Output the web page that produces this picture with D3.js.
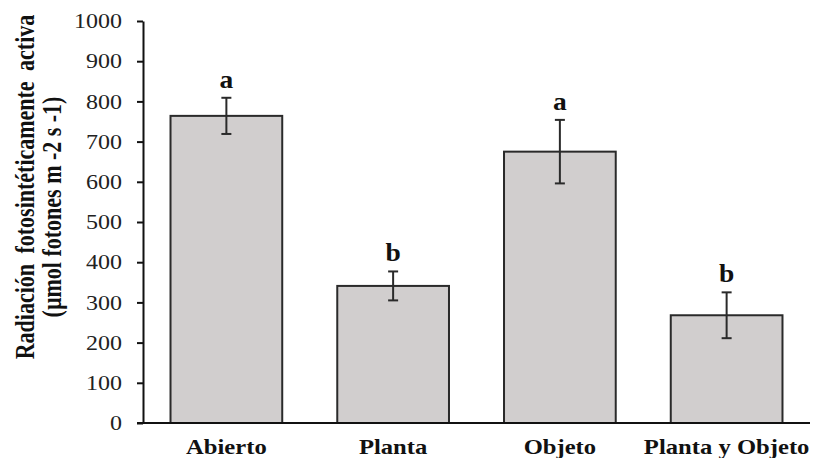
<!DOCTYPE html>
<html>
<head>
<meta charset="utf-8">
<script src="https://cdn.jsdelivr.net/npm/d3@7"></script>
<style>
  body { margin: 0; background: #fff; }
  svg { display: block; }
</style>
</head>
<body>
<svg id="chart" width="814" height="458"></svg>
<script>
// Photosynthetically active radiation by treatment
const categories = ["Abierto", "Planta", "Objeto", "Planta y Objeto"];
const means = [764, 341, 675, 268];
const errors = [45, 36, 79, 57];
const letters = ["a", "b", "a", "b"];
const yTicks = [0, 100, 200, 300, 400, 500, 600, 700, 800, 900, 1000];
const yTitleLines = ["Radiación fotosintéticamente activa", "(µmol fotones m -2 s -1)"];

const serif = "'Liberation Serif', 'Times New Roman', Times, serif";
const svg = d3.select("#chart");
const plotLeft = 143, plotRight = 810, plotTop = 21, plotBottom = 423;

const x = d3.scaleBand()
  .domain(categories)
  .range([plotLeft, plotRight])
  .paddingInner(0.33)
  .paddingOuter(0.165);

const y = d3.scaleLinear().domain([0, 1000]).range([plotBottom, plotTop]);

const rows = categories.map((c, i) => ({ cat: c, mean: means[i], err: errors[i], letter: letters[i] }));

// bars
svg.append("g").selectAll("rect")
  .data(rows)
  .join("rect")
  .attr("x", d => x(d.cat))
  .attr("y", d => y(d.mean))
  .attr("width", x.bandwidth())
  .attr("height", d => y(0) - y(d.mean))
  .attr("fill", "#d1cece")
  .attr("stroke", "#2a2a2a")
  .attr("stroke-width", 2);

// error bars
const eb = svg.append("g").attr("stroke", "#2a2a2a").attr("stroke-width", 2);
rows.forEach(d => {
  const cx = x(d.cat) + x.bandwidth() / 2;
  eb.append("line").attr("x1", cx).attr("x2", cx)
    .attr("y1", y(d.mean - d.err)).attr("y2", y(d.mean + d.err));
  [d.mean - d.err, d.mean + d.err].forEach(v => {
    eb.append("line").attr("x1", cx - 5).attr("x2", cx + 5)
      .attr("y1", y(v)).attr("y2", y(v));
  });
});

// significance letters
svg.append("g").selectAll("text")
  .data(rows)
  .join("text")
  .attr("transform", d => `translate(${x(d.cat) + x.bandwidth() / 2},${y(d.mean + d.err) - 10}) scale(1.1,1)`)
  .attr("text-anchor", "middle")
  .style("font-family", serif)
  .style("font-size", "25px")
  .style("font-weight", "bold")
  .attr("fill", "#111")
  .text(d => d.letter);

// y axis
const yAxis = svg.append("g")
  .attr("transform", `translate(${plotLeft},0)`)
  .call(d3.axisLeft(y).tickValues(yTicks).tickFormat(d3.format("d"))
    .tickSize(6).tickPadding(0).tickSizeOuter(0));
yAxis.select(".domain").attr("stroke", "#111").attr("stroke-width", 2);
yAxis.selectAll(".tick line").attr("stroke", "#111").attr("stroke-width", 2);
yAxis.selectAll(".tick text")
  .attr("x", null).attr("dy", null)
  .style("font-family", serif)
  .style("font-size", "20px")
  .attr("fill", "#222")
  .attr("dominant-baseline", "central")
  .attr("transform", "translate(-21,0) scale(1.2,1)");

// x axis
const xAxis = svg.append("g")
  .attr("transform", `translate(0,${plotBottom})`)
  .call(d3.axisBottom(x).tickSize(0).tickSizeOuter(0));
xAxis.select(".domain").attr("stroke", "#111").attr("stroke-width", 2)
  .attr("d", `M${plotLeft - 6},0H${plotRight}`);
xAxis.selectAll(".tick text")
  .attr("y", null).attr("dy", null)
  .style("font-family", serif)
  .style("font-size", "22px")
  .style("font-weight", "bold")
  .attr("fill", "#111")
  .attr("transform", "translate(0,31) scale(1.12,1)");

// y axis title (two lines)
const titleCenters = [187, 207];
const titleX = [34, 61];
yTitleLines.forEach((t, i) => {
  svg.append("text")
    .attr("transform", `translate(${titleX[i]},${titleCenters[i]}) scale(1.2,1) rotate(-90)`)
    .attr("text-anchor", "middle")
    .style("font-family", serif)
    .style("font-size", "22px")
    .style("font-weight", "bold")
    .style("word-spacing", i === 0 ? "5px" : "0px")
    .attr("fill", "#111")
    .text(t);
});
</script>
</body>
</html>
